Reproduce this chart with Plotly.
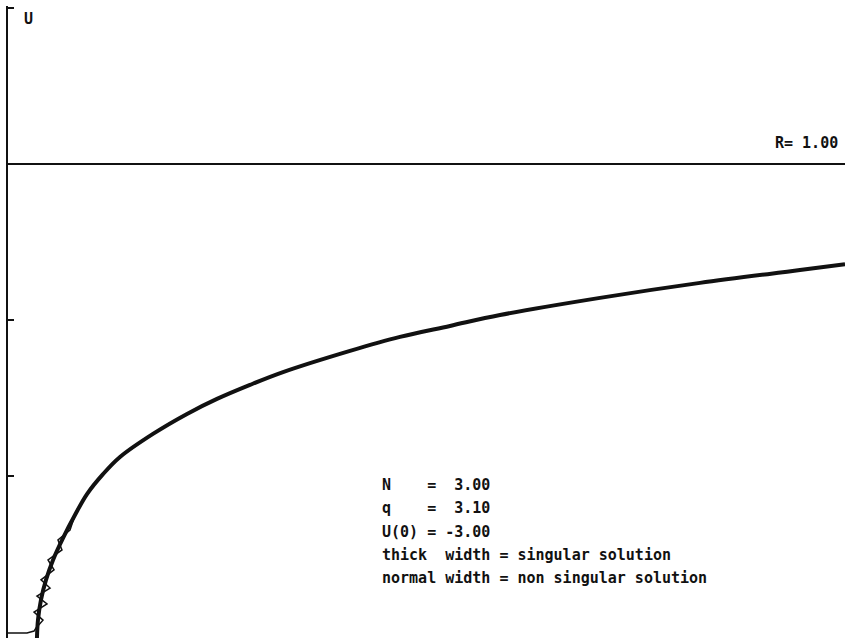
import plotly.graph_objects as go

# Singular solution (thick curve): radius r vs U
r_singular = [0.346, 0.358, 0.394, 0.454, 0.538, 0.657, 0.800, 0.944, 1.135, 1.338,
              1.732, 2.139, 2.497, 2.891, 3.286, 4.086, 4.683, 5.281, 5.878, 7.073,
              8.268, 9.462, 10.0]
u_singular = [-0.519, -0.462, -0.397, -0.333, -0.269, -0.199, -0.125, -0.058, 0.006, 0.061,
              0.135, 0.199, 0.247, 0.292, 0.333, 0.401, 0.446, 0.481, 0.516, 0.571,
              0.619, 0.660, 0.679]

# Non-singular solution (normal width): starts on the lower bound, oscillates onto the singular branch
r_nonsing = [0.0, 0.227, 0.311, 0.335, 0.418, 0.311, 0.466, 0.346, 0.502, 0.394,
             0.550, 0.478, 0.645, 0.597, 0.741, 0.800, 0.902, 0.944, 1.135, 1.338,
             1.732, 2.139, 2.497, 2.891, 3.286, 4.086, 4.683, 5.281, 5.878, 7.073,
             8.268, 9.462, 10.0]
u_nonsing = [-0.503, -0.503, -0.497, -0.487, -0.462, -0.436, -0.410, -0.385, -0.359, -0.333,
             -0.301, -0.269, -0.237, -0.205, -0.173, -0.125, -0.077, -0.058, 0.006, 0.061,
             0.135, 0.199, 0.247, 0.292, 0.333, 0.401, 0.446, 0.481, 0.516, 0.571,
             0.619, 0.660, 0.679]

R_level = 1.00
N_val = 3.00
q_val = 3.10
U0_val = -3.00

y_ticks = [0.0, 0.5, 1.0, 1.5]

MONO = "DejaVu Sans Mono"

fig = go.Figure()

fig.add_trace(go.Scatter(x=[0, 10], y=[R_level, R_level], mode="lines",
                         line=dict(color="#111111", width=1.8), hoverinfo="skip"))
fig.add_trace(go.Scatter(x=r_nonsing, y=u_nonsing, mode="lines",
                         line=dict(color="#111111", width=1.5), hoverinfo="skip"))
fig.add_trace(go.Scatter(x=r_singular, y=u_singular, mode="lines",
                         line=dict(color="#111111", width=4, shape="spline", smoothing=1.0),
                         hoverinfo="skip"))

annotations = [
    dict(x=0.25, y=1.465, text="U", xanchor="center", yanchor="middle"),
    dict(x=9.94, y=1.067, text=f"R= {R_level:.2f}", xanchor="right", yanchor="middle"),
]
block = [
    f"N    =  {N_val:.2f}",
    f"q    =  {q_val:.2f}",
    f"U(0) = {U0_val:.2f}",
    "thick  width = singular solution",
    "normal width = non singular solution",
]
block_y = [-0.029, -0.103, -0.179, -0.253, -0.327]
for line, yy in zip(block, block_y):
    annotations.append(dict(x=4.444, y=yy, text=line.replace(" ", "&nbsp;"),
                            xanchor="left", yanchor="middle"))

for a in annotations:
    a.update(xref="x", yref="y", showarrow=False,
             font=dict(family=MONO, size=15, color="#111111", weight="bold"))

fig.update_layout(
    width=845, height=638,
    margin=dict(l=8, r=0, t=6, b=0),
    paper_bgcolor="white", plot_bgcolor="white",
    showlegend=False,
    annotations=annotations,
    xaxis=dict(range=[0, 10], visible=False, showgrid=False, zeroline=False),
    yaxis=dict(range=[-0.5192, 1.5064], showgrid=False, zeroline=False,
               showline=True, linecolor="#111111", linewidth=2,
               ticks="inside", ticklen=6, tickwidth=2, tickcolor="#111111",
               tickvals=y_ticks, showticklabels=False),
)

fig.write_html("out.html")
